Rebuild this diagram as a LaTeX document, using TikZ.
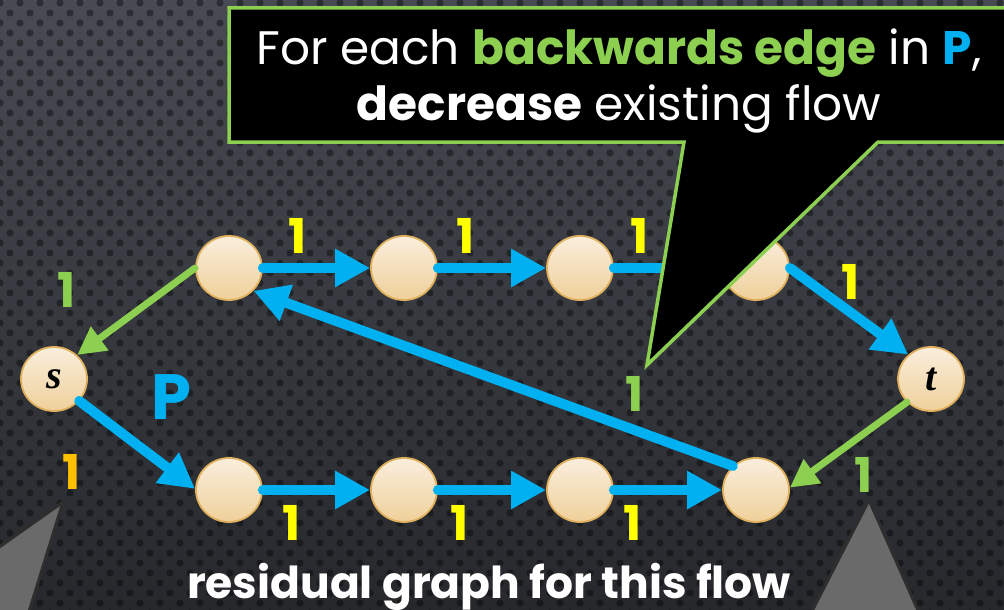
\documentclass[tikz,border=0pt]{standalone}
\usepackage{fontspec}
\setmainfont{Poppins}
\newfontfamily\vtxfont{Liberation Serif}
\usetikzlibrary{shapes.geometric,arrows.meta}
\definecolor{bgtop}{HTML}{484B53}
\definecolor{bgbot}{HTML}{26282C}
\definecolor{nodetop}{HTML}{FAEEDC}
\definecolor{nodebot}{HTML}{EFD09A}
\definecolor{nodeline}{HTML}{E0B05C}
\definecolor{eblue}{HTML}{00B0F0}
\definecolor{egreen}{HTML}{8DCF50}
\definecolor{eyellow}{HTML}{FFFF00}
\definecolor{eorange}{HTML}{FFC000}
\definecolor{tri}{HTML}{6A6A6A}
\definecolor{triline}{HTML}{2E2E2E}
\tikzset{
  vtx/.style={ellipse,draw=nodeline,line width=1.8pt,top color=nodetop,bottom color=nodebot,
    minimum width=66pt,minimum height=64pt,inner sep=0pt,font=\vtxfont\fontsize{40}{40}\selectfont\bfseries\itshape},
  blueedge/.style={draw=eblue,line width=10pt,line cap=round,-{Triangle[length=35pt,width=36pt]}},
  greenedge/.style={draw=egreen,line width=7pt,line cap=round,-{Triangle[length=28pt,width=28pt]}},
  lbl/.style={font=\fontsize{48}{48}\selectfont\bfseries,inner sep=0pt},
  calltext/.style={text=white,font=\fontsize{47}{56}\selectfont,inner sep=0pt},
}
\begin{document}
\begin{tikzpicture}[x=1pt,y=-1pt]
\useasboundingbox (0,0) rectangle (1004,610);
% background
\shade[top color=bgtop,bottom color=bgbot] (0,0) rectangle (1004,610);
\foreach \j in {0,...,61}{
  \pgfmathsetmacro{\off}{mod(\j,2)*10}
  \foreach \i in {0,...,50}{
    \fill[black,opacity=0.38] (\i*20+\off,\j*10+3) circle (3.6);
  }
}
% gray triangles
\draw[fill=tri,draw=triline,line width=3pt] (63,502) -- (-5,550) -- (-5,615) -- (28,615) -- cycle;
\draw[fill=tri,draw=triline,line width=3pt] (869,500) -- (810,615) -- (920,615) -- cycle;
% nodes
\node[vtx] (s) at (54,379) {s};
\node[vtx] (t) at (931,379) {t};
\node[vtx] (a1) at (229,268) {};
\node[vtx] (a2) at (404,268) {};
\node[vtx] (a3) at (580,268) {};
\node[vtx] (a4) at (756,268) {};
\node[vtx] (b1) at (229,490) {};
\node[vtx] (b2) at (404,490) {};
\node[vtx] (b3) at (580,490) {};
\node[vtx] (b4) at (756,490) {};
% edges
\draw[blueedge] (a1.east) -- (a2.west);
\draw[blueedge] (a2.east) -- (a3.west);
\draw[blueedge] (a3.east) -- (a4.west);
\draw[blueedge] (a4.east) -- (t.133);
\draw[blueedge] (s.-41) -- (b1.178);
\draw[blueedge] (b1.east) -- (b2.west);
\draw[blueedge] (b2.east) -- (b3.west);
\draw[blueedge] (b3.east) -- (b4.west);
\draw[blueedge] (b4.134) -- (a1.-43);
\draw[greenedge] (a1.180) -- (s.46);
\draw[greenedge] (t.224) -- (b4.4);
% labels
\node[lbl,text=eyellow] (l1) at (298,236) {1};
\node[lbl,text=eyellow] (l2) at (466,236) {1};
\node[lbl,text=eyellow] (l3) at (640,236) {1};
\node[lbl,text=eyellow] (l4) at (851,282) {1};
\node[lbl,text=eyellow] (l5) at (292,523) {1};
\node[lbl,text=eyellow] (l6) at (460,523) {1};
\node[lbl,text=eyellow] (l7) at (633,523) {1};
\node[lbl,text=egreen] (l8) at (67,290) {1};
\node[lbl,text=egreen] (l9) at (635,394) {1};
\node[lbl,text=egreen] (l10) at (864,475) {1};
\node[lbl,text=eorange] (l11) at (72,472) {1};
\node[font=\fontsize{64}{64}\selectfont\bfseries,text=eblue,inner sep=0pt] (p) at (171,397) {P};
% callout
\draw[fill=black,draw=egreen,line width=3.5pt,line join=miter]
  (229,8) -- (1012,8) -- (1012,142) -- (878,142) -- (647,365) -- (684,142) -- (229,142) -- cycle;
\node[calltext,anchor=base] (c1) at (619,65)
  {For each {\bfseries\color{egreen}backwards edge} in {\bfseries\color{eblue}P},};
\node[calltext,anchor=base] (c2) at (619,121)
  {{\bfseries decrease} existing flow};
% bottom caption
\node[text=white,font=\fontsize{44}{44}\selectfont\bfseries,anchor=base,inner sep=0pt] (cap) at (489,598)
  {residual graph for this flow};
\end{tikzpicture}
\end{document}
